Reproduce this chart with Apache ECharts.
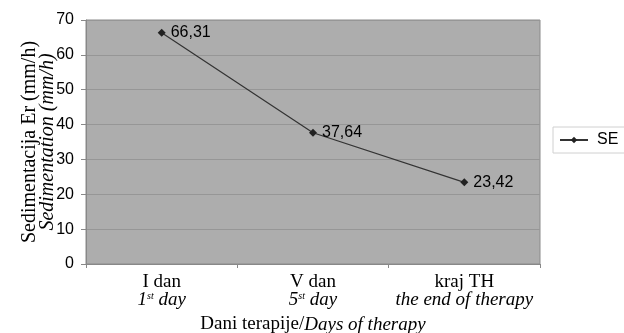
<!DOCTYPE html>
<html><head><meta charset="utf-8">
<script src="https://cdn.jsdelivr.net/npm/echarts@6/dist/echarts.min.js"></script>
<style>html,body{margin:0;padding:0;background:#fff}#c{width:624px;height:333px}</style>
</head><body><div id="c"></div>
<script>
var categoriesTop = ['I dan', 'V dan', 'kraj TH'];
var categoriesBottom = ['{i|1}{sup|st}{i| day}', '{i|5}{sup|st}{i| day}', '{i|the end of therapy}'];
var seValues = [66.31, 37.64, 23.42];
var seLabels = ['66,31', '37,64', '23,42'];
var yTicks = [0, 10, 20, 30, 40, 50, 60, 70];

var serif = '"Liberation Serif","Times New Roman",serif';
var sans = '"Liberation Sans",Arial,sans-serif';
var chart = echarts.init(document.getElementById('c'));
chart.setOption({
  animation: false,
  backgroundColor: '#fff',
  grid: {left: 86, right: 84, top: 20, bottom: 69, show: true, containLabel: false, outerBoundsMode: 'none',
    backgroundColor: '#adadad', borderColor: '#8a8a8a', borderWidth: 1},
  legend: {left: 553, top: 127, itemWidth: 28, itemHeight: 8,
    padding: [5, 14, 5, 6], borderColor: '#d0d0d0', borderWidth: 1,
    textStyle: {fontFamily: sans, fontSize: 16, color: '#000', padding: [0,0,0,4]},
    data: ['SE']},
  xAxis: {type: 'category', data: categoriesTop,
    boundaryGap: true,
    axisLine: {lineStyle: {color: '#888'}},
    axisTick: {show: true, length: 4, lineStyle: {color: '#888'}},
    axisLabel: {margin: 9, interval: 0,
      formatter: function(v, i){ return '{n|' + categoriesTop[i] + '}\n' + categoriesBottom[i]; },
      rich: {
        n: {fontFamily: serif, fontSize: 19, color: '#000', lineHeight: 18},
        i: {fontFamily: serif, fontSize: 19, fontStyle: 'italic', color: '#000', lineHeight: 18},
        sup: {fontFamily: serif, fontSize: 10, fontStyle: 'italic', color: '#000', verticalAlign: 'top', lineHeight: 18, padding: [0,0,8,0]}
      }},
    name: '{n|Dani terapije/}{i|Days of therapy}', nameLocation: 'middle', nameGap: 51, nameMoveOverlap: false,
    nameTextStyle: {rich: {
      n: {fontFamily: serif, fontSize: 19, color: '#000'},
      i: {fontFamily: serif, fontSize: 19, fontStyle: 'italic', color: '#000'}}}
  },
  yAxis: {type: 'value', min: 0, max: 70, interval: 10,
    axisLine: {show: true, lineStyle: {color: '#888'}},
    axisTick: {show: true, length: 5, lineStyle: {color: '#888'}},
    axisLabel: {margin: 12, fontFamily: sans, fontSize: 16, color: '#000',
      formatter: function(v){ return yTicks.indexOf(v) >= 0 ? String(v) : ''; }},
    splitLine: {lineStyle: {color: '#969696', width: 1}},
    name: '{n|Sedimentacija Er (mm/h)}\n{i|Sedimentation (mm/h)}', nameLocation: 'middle', nameGap: 29, nameRotate: 90, nameMoveOverlap: false,
    nameTextStyle: {rich: {
      n: {fontFamily: serif, fontSize: 20, color: '#000', lineHeight: 18},
      i: {fontFamily: serif, fontSize: 20, fontStyle: 'italic', color: '#000', lineHeight: 18}}}
  },
  series: [{name: 'SE', type: 'line', data: seValues,
    symbol: 'diamond', symbolSize: 8,
    lineStyle: {color: '#333', width: 1.2},
    itemStyle: {color: '#222'},
    label: {show: true, position: 'right', distance: 5, fontFamily: sans, fontSize: 16, color: '#000',
      formatter: function(p){ return seLabels[p.dataIndex]; }}
  }]
});
</script></body></html>
